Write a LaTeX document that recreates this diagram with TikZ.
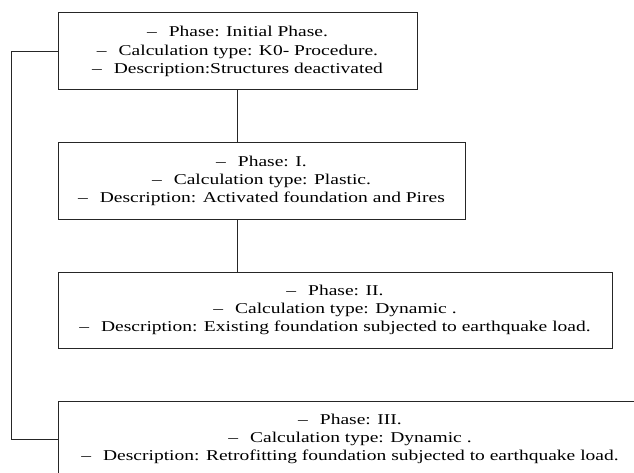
\documentclass[tikz,border=0pt]{standalone}
\usepackage{fontspec}
\setmainfont[FakeStretch=1.3]{Liberation Serif}
\newcommand{\itm}{–\hspace{12pt}}
\tikzset{
  phasebox/.style={draw=black!85, line width=1pt, inner sep=0pt, align=center,
    font=\fontsize{15}{18.3}\selectfont, text=black},
  conn/.style={draw=black!85, line width=1pt}
}
\begin{document}
\begin{tikzpicture}[x=1pt,y=-1pt]
\useasboundingbox (0,0) rectangle (634,473);
\clip (0,0) rectangle (634,473);
\node[phasebox, minimum width=359pt, minimum height=77pt] (b1) at (237.5,51.5)
  {\itm Phase: Initial Phase.\\ \itm Calculation type: K0- Procedure.\\ \itm Description:Structures deactivated};
\node[phasebox, minimum width=407pt, minimum height=76pt] (b2) at (261.5,181)
  {\itm Phase: I.\\ \itm Calculation type: Plastic.\\ \itm Description: Activated foundation and Pires};
\node[phasebox, minimum width=554pt, minimum height=76pt] (b3) at (335,310)
  {\itm Phase: II.\\ \itm Calculation type: Dynamic .\\ \itm Description: Existing foundation subjected to earthquake load.};
\node[phasebox, minimum width=584pt, minimum height=76pt] (b4) at (350,439)
  {\itm Phase: III.\\ \itm Calculation type: Dynamic .\\ \itm Description: Retrofitting foundation subjected to earthquake load.};
\coordinate (lx) at (11,0);
\draw[conn] (b1.south) -- (b1.south |- b2.north);
\draw[conn] (b1.south |- b2.south) -- (b1.south |- b3.north);
\draw[conn] (b1.west) -- (b1.west -| lx) -- (b4.west -| lx) -- (b4.west);
\end{tikzpicture}
\end{document}
